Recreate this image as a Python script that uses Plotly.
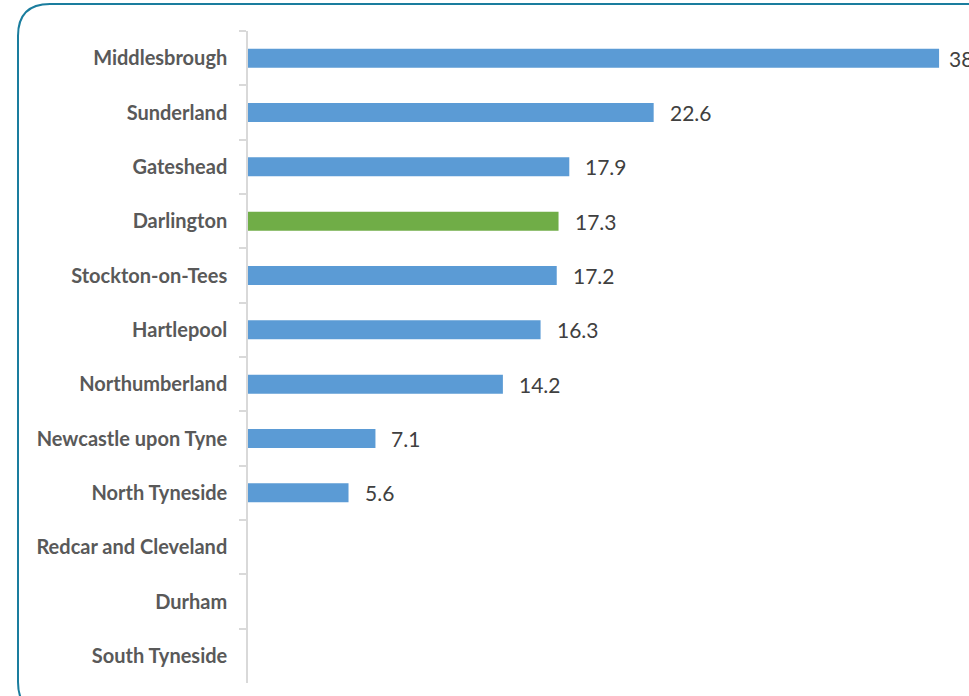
import plotly.graph_objects as go

categories = ["Middlesbrough", "Sunderland", "Gateshead", "Darlington", "Stockton-on-Tees",
              "Hartlepool", "Northumberland", "Newcastle upon Tyne", "North Tyneside",
              "Redcar and Cleveland", "Durham", "South Tyneside"]
values = [38.5, 22.6, 17.9, 17.3, 17.2, 16.3, 14.2, 7.1, 5.6, None, None, None]
highlight = "Darlington"

BLUE = "#5b9bd5"
GREEN = "#70ad47"
colors = [GREEN if c == highlight else BLUE for c in categories]

W, H = 969, 696
ML, MR, MT, MB = 248, 0, 31, 13
PW = W - ML - MR
PH = H - MT - MB
PX_PER_UNIT = 17.95

fig = go.Figure()
fig.add_trace(go.Bar(
    y=categories, x=values, orientation="h",
    marker=dict(color=colors, line=dict(width=0)),
    width=0.35, hoverinfo="skip",
))

vmax = max(v for v in values if v is not None)
for c, v in zip(categories, values):
    if v is None:
        continue
    fig.add_annotation(
        x=v, y=c, xref="x", yref="y", text=f"{v:g}",
        showarrow=False, xanchor="left", yanchor="middle",
        xshift=8 if v == vmax else 14,
        font=dict(family="Lato", size=21, color="#404040"),
    )

def px2paper(x, y):
    return (x - ML) / PW, (H - MB - y) / PH

x0, y0, x1, y1, r = 18, 4, 1000, 714, 32
def P(x, y):
    px, py = px2paper(x, y)
    return f"{px:.5f},{py:.5f}"
path = (f"M {P(x0, y0 + r)} "
        f"Q {P(x0, y0)} {P(x0 + r, y0)} "
        f"L {P(x1 - r, y0)} Q {P(x1, y0)} {P(x1, y0 + r)} "
        f"L {P(x1, y1 - r)} Q {P(x1, y1)} {P(x1 - r, y1)} "
        f"L {P(x0 + r, y1)} Q {P(x0, y1)} {P(x0, y1 - r)} Z")
fig.add_shape(type="path", path=path, xref="paper", yref="paper",
              line=dict(color="#1a7d9e", width=2), layer="below")

fig.update_layout(
    width=W, height=H,
    margin=dict(l=ML, r=MR, t=MT, b=MB),
    paper_bgcolor="white", plot_bgcolor="white",
    showlegend=False,
    xaxis=dict(range=[0, PW / PX_PER_UNIT], visible=False, showgrid=False, zeroline=False),
    yaxis=dict(
        type="category", categoryorder="array", categoryarray=categories,
        autorange="reversed",
        showline=True, linecolor="#d9d9d9", linewidth=1.5,
        ticks="outside", ticklen=7, tickcolor="#d9d9d9", tickwidth=1.5,
        tickson="boundaries", ticklabelstandoff=15,
        tickfont=dict(family="Lato", size=20, color="#595959", weight="bold"),
        showgrid=False, zeroline=False,
    ),
)

fig.write_html("out.html")
